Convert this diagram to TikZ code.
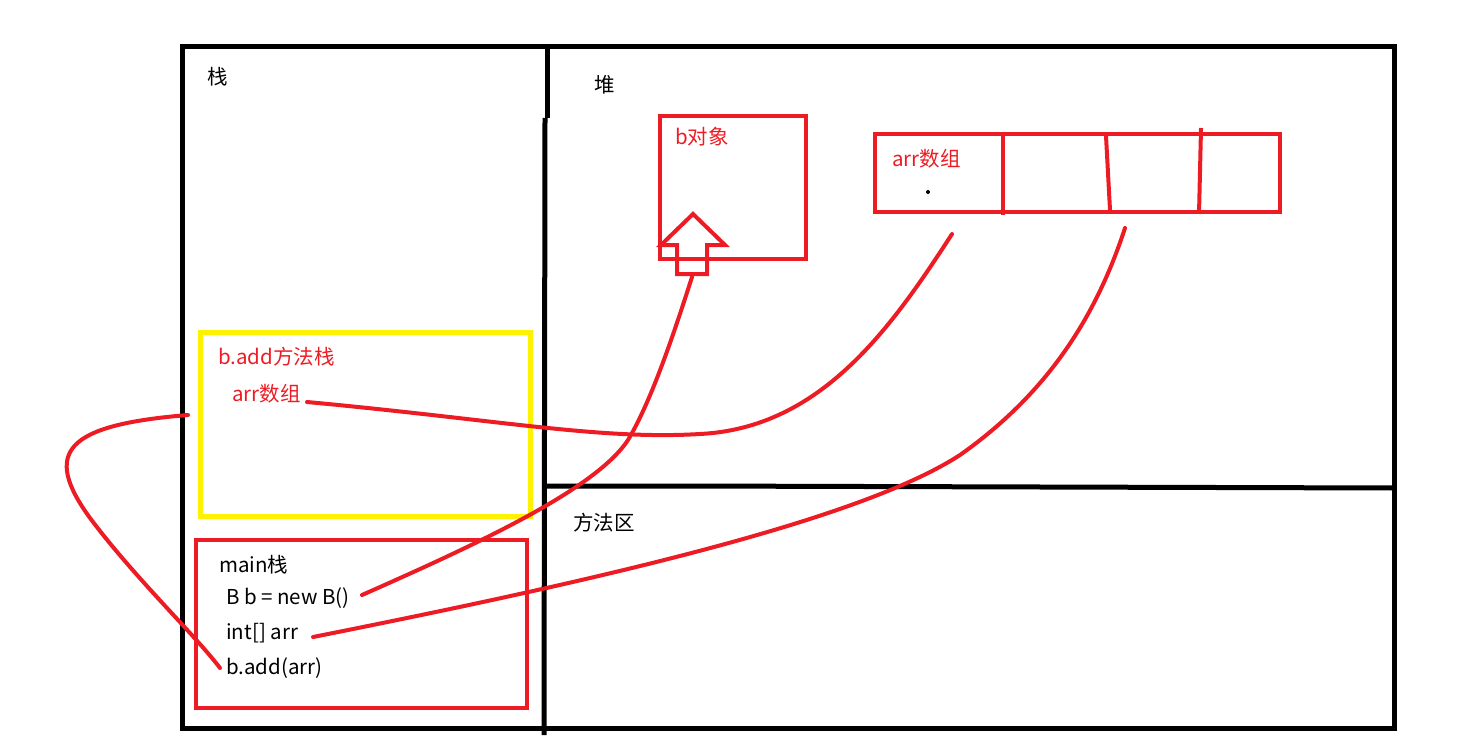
\documentclass[tikz,border=0pt]{standalone}
\usepackage{fontspec}
\setmainfont{Noto Sans CJK SC}
\definecolor{myred}{RGB}{237,28,36}
\definecolor{myyellow}{RGB}{255,242,0}
\begin{document}
\begin{tikzpicture}[x=1pt,y=-1pt,
  frame/.style={draw=black,line width=5pt},
  redbox/.style={draw=myred,line width=4pt,inner sep=0pt,outer sep=0pt},
  yelbox/.style={draw=myyellow,line width=5pt,inner sep=0pt,outer sep=0pt},
  link/.style={draw=myred,line width=4pt,line cap=round},
  txt/.style={font=\fontsize{20.5}{24}\selectfont,inner sep=0pt,anchor=west},
  redtxt/.style={txt,text=myred}]
\useasboundingbox (0,0) rectangle (1474,752);
% frame
\draw[frame] (182,47) rectangle (1394,728);
\draw[frame] (547,47) -- (547,118);
\draw[frame] (545,118) -- (544,735);
\draw[frame] (543,486) -- (690,486) -- (1394,488);
% labels
\node[txt] (zhan) at (207,77) {栈};
\node[txt] (dui) at (594,85) {堆};
\node[txt] (ffq) at (573,523) {方法区};
% b object
\node[redbox,minimum width=146pt,minimum height=143pt] (bobj) at (733,187.5) {};
\node[redtxt] (bobjlbl) at (675,137) {b对象};
\draw[redbox,line join=miter] (677,274) -- (677,245) -- (661,245) -- (693,214) -- (725,245) -- (707,245) -- (707,274) -- cycle;
\coordinate (arrowbase) at (692,277);
% array
\node[redbox,minimum width=405pt,minimum height=78pt] (arr) at (1077.5,173) {};
\draw[redbox] (1003,134) -- (1003,215);
\draw[redbox] (1106,136) -- (1110,210);
\draw[redbox] (1201,128) -- (1199,214);
\node[redtxt] (arrlbl) at (892,159) {arr数组};
\fill (928,192) circle (2pt);
\coordinate (arrA) at (952,234);
\coordinate (arrB) at (1125,228);
% yellow box
\node[yelbox,minimum width=330pt,minimum height=184pt] (addbox) at (365,424) {};
\node[redtxt] (addlbl) at (218,357) {b.add方法栈};
\node[redtxt] (addarr) at (232,394) {arr数组};
\coordinate (c1s) at (307,402);
\coordinate (c4s) at (188,415);
% main box
\node[redbox,minimum width=331pt,minimum height=168pt] (mainbox) at (361.5,624) {};
\node[txt] (mainlbl) at (219,565) {main栈};
\node[txt] (l1) at (226,598) {B b = new B()};
\node[txt] (l2) at (226,633) {int[] arr};
\node[txt] (l3) at (226,668) {b.add(arr)};
\coordinate (c2s) at (362,595);
\coordinate (c3s) at (313,637);
\coordinate (c4e) at (220,668);
% links
\draw[link] (c1s) .. controls (500,420) and (600,440) .. (700,434) .. controls (820,428) and (890,330) .. (arrA);
\draw[link] (c2s) .. controls (475,545) and (595,490) .. (628,440) .. controls (652,400) and (675,330) .. (arrowbase);
\draw[link] (c3s) .. controls (600,580) and (860,520) .. (960,455) .. controls (1045,395) and (1095,320) .. (arrB);
\draw[link] (c4s) .. controls (65,425) and (42,452) .. (90,518) .. controls (135,578) and (195,635) .. (c4e);
\end{tikzpicture}
\end{document}
